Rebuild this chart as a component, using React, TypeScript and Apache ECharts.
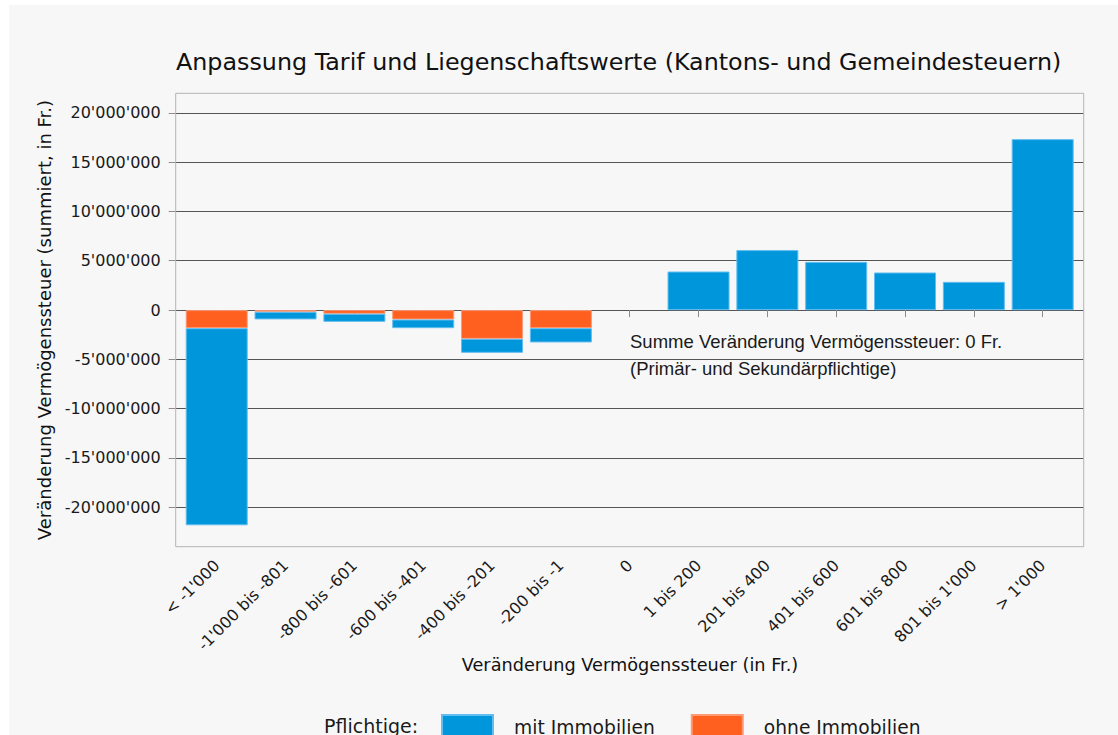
import React, { useEffect, useRef } from "react";
import * as echarts from "echarts";

const categories = [
  "< -1'000",
  "-1'000 bis -801",
  "-800 bis -601",
  "-600 bis -401",
  "-400 bis -201",
  "-200 bis -1",
  "0",
  "1 bis 200",
  "201 bis 400",
  "401 bis 600",
  "601 bis 800",
  "801 bis 1'000",
  "> 1'000",
];

// Veränderung Vermögenssteuer in Fr.
const mitImmobilien = [
  -20000000, -770000, -820000, -880000, -1420000, -1450000, null,
  3920000, 6090000, 4900000, 3820000, 2870000, 17350000,
];
const ohneImmobilien = [
  -1830000, -170000, -370000, -950000, -2910000, -1830000, null,
  null, null, null, null, null, null,
];

const yTickValues = [-20000000, -15000000, -10000000, -5000000, 0, 5000000, 10000000, 15000000, 20000000];

const fmt = (v: number) => {
  const s = Math.abs(Math.round(v)).toString().replace(/\B(?=(\d{3})+(?!\d))/g, "'");
  return (v < 0 ? "-" : "") + s;
};

const BLUE = "#0096dc";
const ORANGE = "#ff5f1f";

export default function App() {
  const ref = useRef<HTMLDivElement>(null);
  useEffect(() => {
    if (!ref.current) return;
    const chart = echarts.init(ref.current, null, { renderer: "svg" });
    const W = 1109;
    const H = 730;
    // frame (page coords minus offset 9,5)
    const fL = 166.7, fT = 88.3, fR = 1074.7, fB = 541.7;
    chart.setOption({
      animation: false,
      backgroundColor: "#f7f7f7",
      grid: [
        { left: fL, right: W - fR, top: 107.8, bottom: H - 502.2 },
        { left: 173.3, right: 40.9, top: fT, bottom: H - fB },
      ],
      xAxis: [
        { gridIndex: 0, type: "value", show: false, min: 0, max: 1 },
        {
          gridIndex: 1,
          type: "category",
          data: categories,
          axisLine: { show: false },
          axisTick: { show: true, alignWithLabel: true, length: 7, lineStyle: { color: "#8c8c8c" } },
          axisLabel: {
            rotate: 45,
            margin: 16,
            interval: 0,
            fontFamily: "DejaVu Sans",
            fontSize: 16,
            color: "#1a1a1a",
          },
          splitLine: { show: false },
        },
      ],
      yAxis: [
        {
          gridIndex: 0,
          type: "value",
          min: yTickValues[0],
          max: yTickValues[yTickValues.length - 1],
          interval: 5000000,
          axisLine: { show: false },
          axisTick: { show: true, length: 7, lineStyle: { color: "#8c8c8c" } },
          axisLabel: {
            margin: 15,
            fontFamily: "DejaVu Sans",
            fontSize: 16,
            color: "#1a1a1a",
            formatter: (v: number) => fmt(v),
          },
          splitLine: { show: true, lineStyle: { color: "#555555", width: 1 } },
        },
        {
          gridIndex: 1,
          type: "value",
          show: false,
          min: -24000000,
          max: 22000000,
        },
      ],
      legend: {
        data: ["mit Immobilien", "ohne Immobilien"],
        left: 432,
        top: 709,
        padding: 0,
        itemWidth: 51,
        itemHeight: 24,
        itemGap: 36,
        icon: "rect",
        textStyle: {
          fontFamily: "DejaVu Sans",
          fontSize: 18.7,
          color: "#1a1a1a",
          padding: [0, 0, 0, 16],
        },
      },
      series: [
        {
          name: "ohne Immobilien",
          type: "bar",
          xAxisIndex: 1,
          yAxisIndex: 1,
          stack: "total",
          data: ohneImmobilien,
          barWidth: 62,
          itemStyle: { color: ORANGE, borderColor: "#ff9a72", borderWidth: 1 },
        },
        {
          name: "mit Immobilien",
          type: "bar",
          xAxisIndex: 1,
          yAxisIndex: 1,
          stack: "total",
          data: mitImmobilien,
          barWidth: 62,
          itemStyle: { color: BLUE, borderColor: "#62bdf0", borderWidth: 1 },
        },
      ],
      graphic: [
        {
          type: "rect",
          silent: true,
          shape: { x: fL, y: fT, width: fR - fL, height: fB - fT },
          style: { fill: "none", stroke: "#b4b4b4", lineWidth: 1 },
          z: 1,
        },
        {
          type: "text",
          x: 167,
          y: 57,
          style: {
            text: "Anpassung Tarif und Liegenschaftswerte (Kantons- und Gemeindesteuern)",
            fontFamily: "DejaVu Sans",
            fontSize: 23.8,
            fill: "#111",
            textAlign: "left",
            textVerticalAlign: "middle",
          },
        },
        {
          type: "text",
          x: 35,
          y: 315,
          rotation: Math.PI / 2,
          style: {
            text: "Veränderung Vermögenssteuer (summiert, in Fr.)",
            fontFamily: "DejaVu Sans",
            fontSize: 18,
            fill: "#111",
            textAlign: "center",
            textVerticalAlign: "middle",
          },
        },
        {
          type: "text",
          x: 621,
          y: 660,
          style: {
            text: "Veränderung Vermögenssteuer (in Fr.)",
            fontFamily: "DejaVu Sans",
            fontSize: 17.7,
            fill: "#111",
            textAlign: "center",
            textVerticalAlign: "middle",
          },
        },
        {
          type: "text",
          x: 621,
          y: 336,
          style: {
            text: "Summe Veränderung Vermögenssteuer: 0 Fr.",
            fontFamily: "Liberation Sans",
            fontSize: 18.5,
            fill: "#1a1a1a",
            textAlign: "left",
            textVerticalAlign: "middle",
          },
        },
        {
          type: "text",
          x: 621,
          y: 363,
          style: {
            text: "(Primär- und Sekundärpflichtige)",
            fontFamily: "Liberation Sans",
            fontSize: 18.5,
            fill: "#1a1a1a",
            textAlign: "left",
            textVerticalAlign: "middle",
          },
        },
        {
          type: "text",
          x: 315,
          y: 721,
          style: {
            text: "Pflichtige:",
            fontFamily: "DejaVu Sans",
            fontSize: 19,
            fill: "#1a1a1a",
            textAlign: "left",
            textVerticalAlign: "middle",
          },
        },
      ],
    });
    return () => chart.dispose();
  }, []);
  return (
    <div
      ref={ref}
      style={{ position: "absolute", left: 9, top: 5, width: 1109, height: 730, background: "#f7f7f7" }}
    />
  );
}
